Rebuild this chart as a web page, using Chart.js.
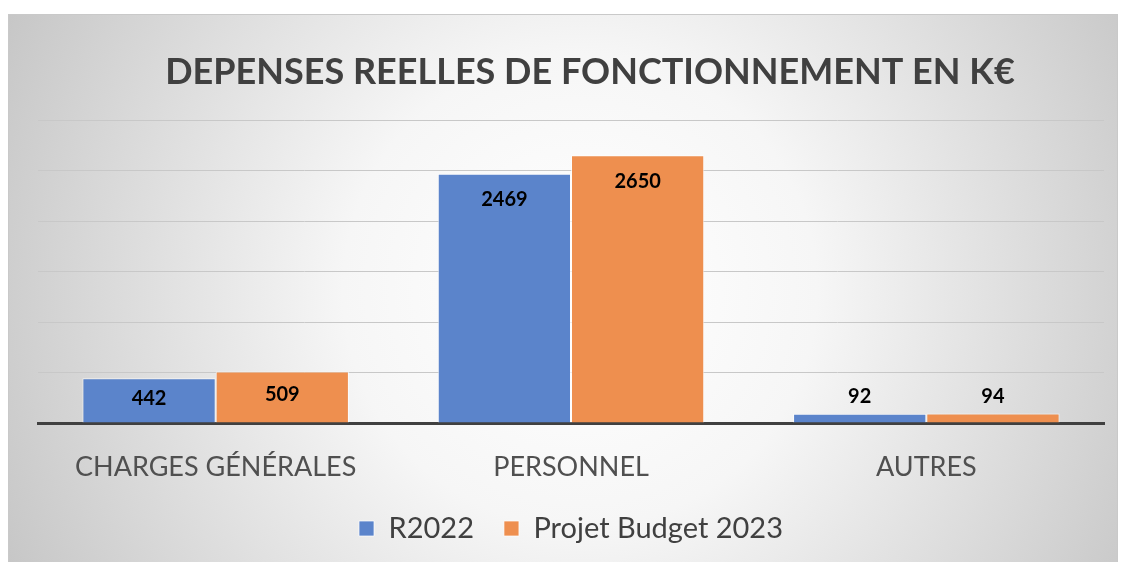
<!DOCTYPE html>
<html>
<head>
<meta charset="utf-8">
<script src="https://cdn.jsdelivr.net/npm/chart.js@4.4.0/dist/chart.umd.min.js"></script>
<style>
  html, body { margin: 0; padding: 0; background: #fff; }
  #wrap { width: 1121px; height: 562px; }
</style>
</head>
<body>
<div id="wrap"><canvas id="barChartDepenses"></canvas></div>
<script>
var categories = ['CHARGES GÉNÉRALES', 'PERSONNEL', 'AUTRES'];
var r2022 = [442, 2469, 92];
var budget2023 = [509, 2650, 94];
var seriesNames = ['R2022', 'Projet Budget 2023'];
var chartTitle = 'DEPENSES REELLES DE FONCTIONNEMENT EN K€';

// fond gris dégradé + titre
var backgroundPlugin = {
    id: 'fond',
    beforeDraw: function (chart) {
        var c = chart.ctx;
        c.save();
        c.fillStyle = '#ffffff';
        c.fillRect(0, 0, chart.width, chart.height);
        var g = c.createRadialGradient(580, 290, 20, 580, 290, 640);
        g.addColorStop(0, '#ffffff');
        g.addColorStop(0.35, '#f6f6f6');
        g.addColorStop(1, '#c6c6c6');
        c.fillStyle = g;
        c.fillRect(8, 14, 1110, 548);
        c.strokeStyle = '#c9c9c9';
        c.lineWidth = 1;
        c.strokeRect(8.5, 14.5, 1109, 560);
        c.fillStyle = '#404040';
        c.font = 'bold 36px Lato';
        c.textAlign = 'center';
        c.textBaseline = 'middle';
        c.fillText(chartTitle, 590, 72);
        c.restore();
    }
};

// étiquettes de valeurs
var labelPlugin = {
    id: 'valeurs',
    afterDatasetsDraw: function (chart) {
        var c = chart.ctx;
        c.save();
        c.font = 'bold 20px Lato';
        c.fillStyle = '#000000';
        c.textAlign = 'center';
        c.textBaseline = 'middle';
        chart.data.datasets.forEach(function (ds, i) {
            chart.getDatasetMeta(i).data.forEach(function (bar, j) {
                var h = bar.base - bar.y;
                var y = h > 30 ? bar.y + Math.min(26, h / 2 - 2) : bar.y - 17;
                c.fillText(String(ds.data[j]), bar.x, y);
            });
        });
        c.restore();
    }
};

var ctx1 = document.getElementById('barChartDepenses').getContext('2d');
var myChart1 = new Chart(ctx1, {
    type: 'bar',
    data: {
        labels: categories,
        datasets: [{
            label: seriesNames[0],
            data: r2022,
            backgroundColor: '#5b84cb',
            borderColor: 'rgba(255,255,255,0.7)',
            borderWidth: 1
        }, {
            label: seriesNames[1],
            data: budget2023,
            backgroundColor: '#ee8f4f',
            borderColor: 'rgba(255,255,255,0.7)',
            borderWidth: 1
        }]
    },
    options: {
        responsive: true,
        maintainAspectRatio: false,
        animation: false,
        layout: { padding: { left: 38, right: 17, top: 120, bottom: 9 } },
        datasets: { bar: { categoryPercentage: 0.75, barPercentage: 1 } },
        plugins: {
            title: { display: false },
            tooltip: { enabled: false },
            legend: {
                position: 'bottom',
                maxHeight: 78,
                labels: {
                    font: { family: 'Lato', size: 29 },
                    color: '#404040',
                    boxWidth: 15,
                    boxHeight: 15,
                    padding: 30
                }
            }
        },
        scales: {
            x: {
                grid: { display: false, drawTicks: false },
                border: { display: true, color: '#404040', width: 3 },
                ticks: { font: { family: 'Lato', size: 27 }, color: '#505050', padding: 28 },
                afterFit: function (scale) { scale.height = 61; }
            },
            y: {
                min: 0,
                max: 3000,
                ticks: { display: false, stepSize: 500 },
                border: { display: false },
                grid: {
                    drawTicks: false,
                    color: function (c) { return c.tick.value === 0 ? 'rgba(0,0,0,0)' : '#c8c8c8'; },
                    lineWidth: 1
                }
            }
        }
    },
    plugins: [backgroundPlugin, labelPlugin]
});
</script>
</body>
</html>
